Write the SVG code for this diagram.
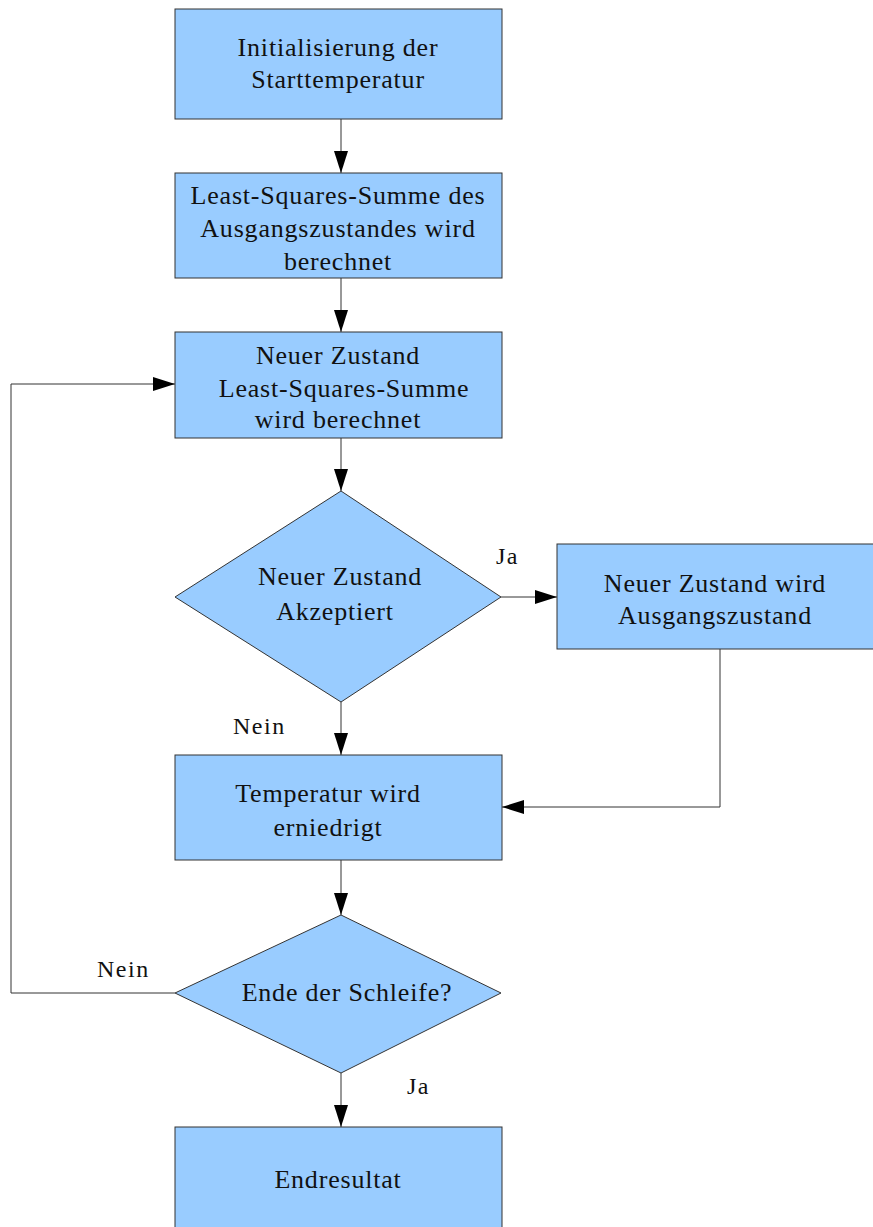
<svg xmlns="http://www.w3.org/2000/svg" width="873" height="1227" viewBox="0 0 873 1227">
<style>
.n{fill:#99ccff;stroke:#333;stroke-width:1}
.t{font-family:'Liberation Serif','Times New Roman','DejaVu Serif',serif;font-size:26px;fill:#111;text-anchor:middle;letter-spacing:0.8px}
.l{font-family:'Liberation Serif','Times New Roman','DejaVu Serif',serif;font-size:24px;fill:#111;letter-spacing:1.5px}
.c{fill:none;stroke:#333;stroke-width:1}
</style>
<defs>
<marker id="a" markerWidth="22" markerHeight="14" refX="22" refY="7" orient="auto" markerUnits="userSpaceOnUse">
<path d="M0,0 L22,7 L0,14 Z" fill="#000"/>
</marker>
</defs>
<rect width="873" height="1227" fill="#fff"/>
<g id="connectors">
<path class="c" d="M341,119 V173" marker-end="url(#a)"/>
<path class="c" d="M341,278 V332" marker-end="url(#a)"/>
<path class="c" d="M341,438 V491" marker-end="url(#a)"/>
<path class="c" d="M501,597 H557" marker-end="url(#a)"/>
<path class="c" d="M341,702 V755" marker-end="url(#a)"/>
<path class="c" d="M720,649 V807 H502" marker-end="url(#a)"/>
<path class="c" d="M341,860 V915" marker-end="url(#a)"/>
<path class="c" d="M175,993 H11 V384 H175" marker-end="url(#a)"/>
<path class="c" d="M341,1073 V1127" marker-end="url(#a)"/>
<text class="l" x="496" y="564">Ja</text>
<text class="l" x="233" y="734">Nein</text>
<text class="l" x="97" y="977">Nein</text>
<text class="l" x="407" y="1094">Ja</text>
</g>
<g id="n1"><rect class="n" x="175" y="9" width="327" height="110"/>
<text class="t" x="338" y="56">Initialisierung der</text><text class="t" x="338" y="88">Starttemperatur</text></g>
<g id="n2"><rect class="n" x="175" y="173" width="327" height="105"/>
<text class="t" x="338" y="204">Least-Squares-Summe des</text><text class="t" x="338" y="237">Ausgangszustandes wird</text><text class="t" x="338" y="270">berechnet</text></g>
<g id="n3"><rect class="n" x="175" y="332" width="327" height="106"/>
<text class="t" x="338" y="364">Neuer Zustand</text><text class="t" x="344" y="397">Least-Squares-Summe</text><text class="t" x="338" y="428">wird berechnet</text></g>
<g id="n4"><polygon class="n" points="341,491 501,597 341,702 175,597"/>
<text class="t" x="340" y="585">Neuer Zustand</text><text class="t" x="335" y="620">Akzeptiert</text></g>
<g id="n5"><rect class="n" x="557" y="544" width="330" height="105"/>
<text class="t" x="715" y="592">Neuer Zustand wird</text><text class="t" x="715" y="624">Ausgangszustand</text></g>
<g id="n6"><rect class="n" x="175" y="755" width="327" height="105"/>
<text class="t" x="328" y="802">Temperatur wird</text><text class="t" x="328" y="836">erniedrigt</text></g>
<g id="n7"><polygon class="n" points="341,915 501,993 341,1073 175,993"/>
<text class="t" x="347" y="1001">Ende der Schleife?</text></g>
<g id="n8"><rect class="n" x="175" y="1127" width="327" height="110"/>
<text class="t" x="338" y="1188">Endresultat</text></g>
</svg>
